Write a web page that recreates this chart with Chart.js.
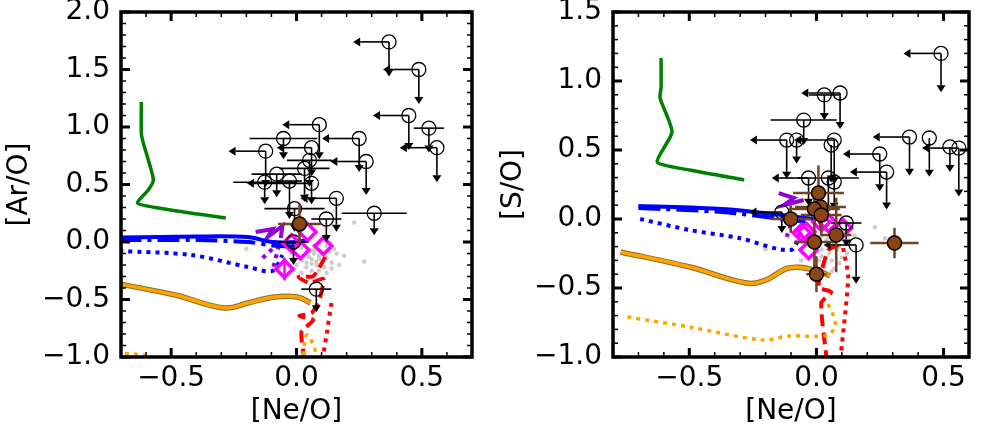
<!DOCTYPE html>
<html>
<head>
<meta charset="utf-8">
<script src="https://cdn.jsdelivr.net/npm/chart.js@4.4.0/dist/chart.umd.min.js"></script>
<style>
body { margin: 0; background: #fff; }
#wrap { position: relative; width: 981px; height: 431px; }
canvas { position: absolute; top: 0; }
</style>
</head>
<body>
<div id="wrap">
  <canvas id="arChart" width="490" height="431" style="left:0px"></canvas>
  <canvas id="sChart" width="491" height="431" style="left:490px"></canvas>
</div>
<script>
// ---- tick labels ----
const arXTicks = [-0.5, 0.0, 0.5];
const arYTicks = [-1.0, -0.5, 0.0, 0.5, 1.0, 1.5, 2.0];
const sXTicks = [-0.5, 0.0, 0.5];
const sYTicks = [-1.0, -0.5, 0.0, 0.5, 1.0, 1.5];

// ---- [Ar/O] panel: model tracks ----
const arGreenX = [-0.619, -0.619, -0.611, -0.591, -0.571, -0.591, -0.635, -0.552, -0.393, -0.282];
const arGreenY = [1.217, 0.948, 0.861, 0.713, 0.539, 0.452, 0.339, 0.296, 0.243, 0.209];
const arBlueX = [-0.706, -0.393, -0.194, -0.095, 0.004, 0.044];
const arBlueY = [0.038, 0.048, 0.043, 0.0, 0.0, 0.017];
const arBlueDdX = [-0.706, -0.393, -0.194, -0.095, 0.004];
const arBlueDdY = [0.017, 0.017, 0.0, -0.03, -0.04];
const arBlueDotX = [-0.706, -0.42, -0.194, -0.095, -0.056];
const arBlueDotY = [-0.078, -0.113, -0.217, -0.252, -0.113];
const arPurpleX = [-0.163, -0.095, -0.115, -0.056, -0.063];
const arPurpleY = [0.087, 0.113, 0.043, 0.139, 0.035];
const arPurpleDotX = [-0.135, -0.067, -0.095];
const arPurpleDotY = [-0.139, 0.0, -0.243];
const arOrangeX = [-0.706, -0.484, -0.286, -0.194, -0.087, 0.004, 0.056];
const arOrangeY = [-0.365, -0.461, -0.574, -0.53, -0.478, -0.478, -0.53];
const arOrangeDotX = [-0.72, -0.6, -0.45, 0.0, 0.04, 0.075, 0.06];
const arOrangeDotY = [-0.965, -0.99, -1.15, -1.15, -0.81, -0.95, -1.1];
const arRedX = [0.115, 0.067, 0.008, 0.052, 0.107, 0.091, 0.06, 0.012, 0.067, 0.02, 0.032];
const arRedY = [-0.13, -0.296, -0.304, -0.357, -0.322, -0.504, -0.617, -0.643, -0.678, -0.783, -1.03];
const arRedDotX = [0.139, 0.123, 0.103];
const arRedDotY = [-0.53, -0.765, -1.03];

// ---- [Ar/O] panel: observations ----
const arGrayX = [0.02, 0.05, 0.07, 0.03, 0.06, 0.09, 0.04, 0.08, 0.10, 0.12, 0.00, 0.06, 0.02, 0.11, 0.14, 0.07, 0.16, 0.19, 0.23, 0.27,
                 0.12, 0.14, 0.05, -0.02, -0.05, 0.09, 0.13, 0.10, 0.04, 0.15, -0.20, 0.01, 0.08, 0.03, 0.11, 0.06, 0.17, 0.09, -0.01, 0.13,
                 0.05, 0.08, 0.02, 0.10, 0.07, 0.04, 0.12, 0.09];
const arGrayY = [-0.05, -0.08, -0.10, -0.12, -0.15, -0.12, -0.18, -0.20, -0.08, -0.14, -0.20, -0.25, -0.27, -0.22, -0.18, -0.03, -0.10, -0.12, 0.17, -0.17,
                 -0.27, -0.23, 0.02, -0.10, -0.16, -0.02, -0.05, -0.16, -0.22, -0.06, -0.06, -0.14, -0.06, -0.03, -0.11, -0.19, -0.20, -0.25, -0.24, -0.09,
                 -0.13, -0.17, -0.16, -0.19, -0.07, -0.09, -0.03, -0.14];
const arDiaX = [0.044, -0.02, 0.016, 0.107, -0.048];
const arDiaY = [0.087, -0.01, -0.07, -0.035, -0.235];
const arDiaYErr = [0, 0, 0, 0, 0.1];
const arLimX = [0.369, 0.488, 0.448, 0.528, 0.56, 0.091, -0.052, 0.25, -0.123, 0.06, 0.278, 0.052, 0.032, -0.079, -0.127, -0.028, 0.06, 0.159, -0.008, 0.119, 0.31, -0.012, 0.079];
const arLimY = [1.74, 1.50, 1.10, 0.99, 0.82, 1.02, 0.90, 0.90, 0.79, 0.82, 0.70, 0.71, 0.64, 0.59, 0.52, 0.53, 0.51, 0.38, 0.29, 0.20, 0.25, 0.0, -0.41];
const arLimLeft = [0.115, 0.115, 0.115, 0, 0.12, 0.12, 0, 0.12, 0.12, 0.11, 0.115, 0, 0, 0, 0, 0, 0.23, 0.115, 0, 0, 0, 0, 0];
const arLimXErr = [0, 0, 0, 0.06, 0, 0, 0.135, 0, 0, 0, 0, 0.09, 0.1, 0.1, 0.125, 0.05, 0, 0, 0.12, 0.06, 0.13, 0.06, 0.06];
const arLimDown = [0.24, 0.24, 0.24, 0.15, 0.24, 0.24, 0.12, 0.23, 0.25, 0.19, 0.23, 0.17, 0.23, 0.14, 0.13, 0.27, 0.12, 0.23, 0.14, 0.14, 0.13, 0.14, 0.14];
const arBrownX = [0.012];
const arBrownY = [0.157];
const arBrownXErr = [0.085];
const arBrownYErr = [0.17];

// ---- [S/O] panel: model tracks ----
const sGreenX = [-0.611, -0.611, -0.615, -0.568, -0.626, -0.498, -0.284];
const sGreenY = [1.167, 0.957, 0.877, 0.63, 0.413, 0.355, 0.283];
const sBlueX = [-0.70, -0.37, -0.136, -0.043, 0.0];
const sBlueY = [0.094, 0.072, 0.029, 0.007, 0.0];
const sBlueDdX = [-0.70, -0.37, -0.136, -0.043];
const sBlueDdY = [0.08, 0.05, 0.0, -0.02];
const sBlueDotX = [-0.693, -0.498, -0.304, -0.101, -0.058];
const sBlueDotY = [0.0, -0.08, -0.138, -0.225, -0.08];
const sPurpleX = [-0.148, -0.089, -0.128, -0.05];
const sPurpleY = [0.188, 0.152, 0.101, 0.138];
const sPurpleDotX = [-0.101, -0.117];
const sPurpleDotY = [-0.043, -0.13];
const sOrangeX = [-0.77, -0.498, -0.276, -0.198, -0.109, -0.004, 0.054];
const sOrangeY = [-0.239, -0.348, -0.464, -0.442, -0.355, -0.37, -0.413];
const sOrangeDotX = [-0.743, -0.498, -0.214, -0.109, 0.047, 0.074, 0.039];
const sOrangeDotY = [-0.71, -0.783, -0.877, -0.848, -0.841, -0.754, -0.587];
const sRedX = [0.086, 0.047, 0.008, 0.058, 0.019, 0.039, 0.045];
const sRedY = [-0.188, -0.225, -0.493, -0.529, -0.609, -1.0, -1.15];
const sRedDotX = [0.105, 0.125, 0.097, 0.09];
const sRedDotY = [-0.21, -0.42, -0.97, -1.15];

// ---- [S/O] panel: observations ----
const sGrayX = [0.02, 0.00, 0.04, 0.06, 0.08, 0.10, -0.02, 0.03, 0.05, 0.07, 0.09, 0.11, -0.04, 0.01, 0.06,
                0.04, 0.12, 0.08, -0.01, 0.02, -0.20, 0.23, 0.15, 0.27, 0.10, 0.05, -0.06, 0.13, 0.03, 0.07,
                0.0, 0.05, 0.09, 0.02];
const sGrayY = [-0.27, -0.20, -0.15, -0.30, -0.22, -0.12, -0.10, -0.35, -0.25, -0.18, -0.32, -0.08, -0.18, -0.30, -0.38,
                -0.05, -0.25, -0.10, -0.26, -0.12, -0.22, -0.06, -0.12, -0.14, -0.28, -0.20, -0.30, -0.17, -0.08, -0.36,
                -0.33, -0.13, -0.20, -0.22];
const sDiaX = [0.019, -0.039, -0.031, 0.047, 0.105, -0.058];
const sDiaY = [-0.022, -0.094, -0.225, -0.029, -0.065, -0.1];
const sDiaYErr = [0, 0, 0, 0, 0, 0];
const sLimX = [0.49, 0.093, 0.031, -0.05, -0.117, -0.078, 0.07, 0.058, 0.249, 0.276, 0.366, 0.444, 0.525, 0.56, -0.031, 0.047, 0.07, 0.117, 0.156, -0.136];
const sLimY = [1.20, 0.913, 0.899, 0.717, 0.572, 0.572, 0.572, 0.536, 0.471, 0.34, 0.594, 0.587, 0.522, 0.514, 0.297, 0.297, 0.268, -0.029, -0.188, 0.05];
const sLimLeft = [0.12, 0.125, 0, 0, 0.117, 0, 0.13, 0, 0.117, 0.117, 0.117, 0, 0, 0.117, 0.117, 0, 0, 0, 0.1, 0.1];
const sLimXErr = [0, 0, 0.06, 0.13, 0, 0, 0, 0, 0, 0, 0, 0, 0, 0, 0, 0.12, 0, 0.06, 0, 0];
const sLimDown = [0.23, 0.21, 0.13, 0.13, 0.23, 0.12, 0.27, 0.22, 0.22, 0.22, 0.23, 0.23, 0.13, 0.3, 0.15, 0.2, 0.15, 0.12, 0.23, 0.1];
const sBrownX = [0.008, 0.016, -0.008, 0.019, -0.101, -0.008, 0.078, 0.307, 0.0];
const sBrownY = [0.188, 0.087, 0.072, 0.029, 0.0, -0.167, -0.116, -0.174, -0.40];
const sBrownXErr = [0.1, 0.1, 0.1, 0.08, 0.08, 0.08, 0.06, 0.095, 0.04];
const sBrownYErr = [0.2, 0.15, 0.12, 0.15, 0.1, 0.2, 0.27, 0.11, 0.13];

const FONT = "'DejaVu Sans', sans-serif";

function pts(xs, ys) {
    return xs.map((x, i) => ({x: x, y: ys[i]}));
}

function track(xs, ys, color, width, dash, tension, order) {
    return {
        data: pts(xs, ys), showLine: true, pointRadius: 0, fill: false,
        borderColor: color, borderWidth: width, borderDash: dash || [],
        tension: tension || 0, order: order || 5
    };
}

function fmt(v) {
    return (v < 0 ? '\u2212' : '') + Math.abs(v).toFixed(1);
}

function drawArrowHead(ctx, x, y, dir) {
    // base at (x,y), apex pointing in dir ('left' or 'down')
    ctx.beginPath();
    if (dir == 'left') {
        ctx.moveTo(x, y - 4.5); ctx.lineTo(x, y + 4.5); ctx.lineTo(x - 7, y);
    } else {
        ctx.moveTo(x - 4.5, y); ctx.lineTo(x + 4.5, y); ctx.lineTo(x, y + 7);
    }
    ctx.closePath();
    ctx.fill();
}

// error bars and limit arrows, drawn just under their own markers
const errPlugin = {
    id: 'errs',
    beforeDatasetDraw(chart, args) {
        const ds = chart.data.datasets[args.index];
        if (!ds.errs) return;
        const e = ds.errs, ctx = chart.ctx, xs = chart.scales.x, ys = chart.scales.y, a = chart.chartArea;
        ctx.save();
        ctx.beginPath();
        ctx.rect(a.left, a.top, a.right - a.left, a.bottom - a.top);
        ctx.clip();
        ctx.strokeStyle = e.color;
        ctx.fillStyle = e.color;
        ctx.lineWidth = e.width;
        ds.data.forEach((p, i) => {
            const px = xs.getPixelForValue(p.x), py = ys.getPixelForValue(p.y);
            const seg = (x1, y1, x2, y2) => { ctx.beginPath(); ctx.moveTo(x1, y1); ctx.lineTo(x2, y2); ctx.stroke(); };
            if (e.xErr && e.xErr[i]) seg(xs.getPixelForValue(p.x - e.xErr[i]), py, xs.getPixelForValue(p.x + e.xErr[i]), py);
            if (e.yErr && e.yErr[i]) seg(px, ys.getPixelForValue(p.y - e.yErr[i]), px, ys.getPixelForValue(p.y + e.yErr[i]));
            if (e.left && e.left[i]) {
                const ex = xs.getPixelForValue(p.x - e.left[i]);
                seg(px, py, ex, py);
                drawArrowHead(ctx, ex, py, 'left');
            }
            if (e.down && e.down[i]) {
                const ey = ys.getPixelForValue(p.y - e.down[i]);
                seg(px, py, px, ey);
                drawArrowHead(ctx, px, ey, 'down');
            }
        });
        ctx.restore();
    }
};

// thick frame with inward major/minor ticks on all four sides
const framePlugin = {
    id: 'frame',
    afterDraw(chart) {
        const ctx = chart.ctx, a = chart.chartArea, xs = chart.scales.x, ys = chart.scales.y;
        const xt = chart.options.plugins.frame.xTicks, yt = chart.options.plugins.frame.yTicks;
        const seg = (x1, y1, x2, y2) => { ctx.beginPath(); ctx.moveTo(x1, y1); ctx.lineTo(x2, y2); ctx.stroke(); };
        ctx.save();
        ctx.strokeStyle = '#000';
        ctx.lineWidth = 1.5;
        for (let k = Math.ceil(xs.min * 10 - 1e-6); k <= Math.floor(xs.max * 10 + 1e-6); k++) {
            const p = xs.getPixelForValue(k / 10);
            seg(p, a.bottom, p, a.bottom - 5); seg(p, a.top, p, a.top + 5);
        }
        for (let k = Math.ceil(ys.min * 10 - 1e-6); k <= Math.floor(ys.max * 10 + 1e-6); k++) {
            const p = ys.getPixelForValue(k / 10);
            seg(a.left, p, a.left + 5, p); seg(a.right, p, a.right - 5, p);
        }
        ctx.lineWidth = 3;
        xt.forEach(v => {
            const p = xs.getPixelForValue(v);
            seg(p, a.bottom, p, a.bottom - 9); seg(p, a.top, p, a.top + 9);
        });
        yt.forEach(v => {
            const p = ys.getPixelForValue(v);
            seg(a.left, p, a.left + 9, p); seg(a.right, p, a.right - 9, p);
        });
        ctx.lineWidth = 3.5;
        ctx.strokeRect(a.left, a.top, a.right - a.left, a.bottom - a.top);
        ctx.restore();
    }
};

function make_panel(canvasId, p) {
    const datasets = [
        {data: pts(p.grayX, p.grayY), pointRadius: 2.2, pointBackgroundColor: '#cccccc', pointBorderWidth: 0, order: 7},
        track(p.greenX, p.greenY, '#008000', 3.5, null, 0.2, 5),
        track(p.blueDotX, p.blueDotY, '#0000ff', 4, [4, 5], 0.3, 5),
        track(p.blueDdX, p.blueDdY, '#0000ff', 4, [22, 6, 4, 6], 0.3, 5),
        track(p.blueX, p.blueY, '#0000ff', 4, null, 0.3, 5),
        track(p.orangeX, p.orangeY, '#8a6a30', 5.5, null, 0.4, 5.2),
        track(p.orangeX, p.orangeY, '#ffa500', 3.5, null, 0.4, 5.1),
        track(p.orangeDotX, p.orangeDotY, '#ffa500', 3.5, [4, 5], 0.3, 5),
        track(p.redX, p.redY, '#ff0000', 4, [12, 6], 0.2, 5),
        track(p.redDotX, p.redDotY, '#ff0000', 4, [4, 5], 0.2, 5),
        track(p.purpleX, p.purpleY, '#9400d3', 4, null, 0, 5),
        track(p.purpleDotX, p.purpleDotY, '#9400d3', 4, [4, 5], 0, 5),
        {data: pts(p.diaX, p.diaY), pointStyle: 'rectRot', pointRadius: 8.5, pointBackgroundColor: 'rgba(0,0,0,0)',
         pointBorderColor: '#ff00ff', pointBorderWidth: 3.5, order: 3,
         errs: {color: '#ff00ff', width: 2.5, yErr: p.diaYErr}},
        {data: pts(p.limX, p.limY), pointStyle: 'circle', pointRadius: 7, pointBackgroundColor: 'rgba(0,0,0,0)',
         pointBorderColor: '#000', pointBorderWidth: 1.3, order: 2,
         errs: {color: '#000', width: 1.6, xErr: p.limXErr, left: p.limLeft, down: p.limDown}},
        {data: pts(p.brownX, p.brownY), pointStyle: 'circle', pointRadius: 7, pointBackgroundColor: '#8b4513',
         pointBorderColor: '#000', pointBorderWidth: 1.5, order: 1,
         errs: {color: '#6e4424', width: 2.5, xErr: p.brownXErr, yErr: p.brownYErr}}
    ];

    return new Chart(document.getElementById(canvasId), {
        type: 'scatter',
        data: {datasets: datasets},
        plugins: [errPlugin, framePlugin],
        options: {
            responsive: false, animation: false, devicePixelRatio: 1, events: [],
            layout: {padding: {top: 12, right: p.padRight, left: 0, bottom: 0}},
            plugins: {legend: {display: false}, tooltip: {enabled: false}, frame: {xTicks: p.xTicks, yTicks: p.yTicks}},
            scales: {
                x: {
                    type: 'linear', min: p.xMin, max: p.xMax,
                    grid: {display: false, drawTicks: false}, border: {display: false},
                    afterBuildTicks: s => { s.ticks = p.xTicks.map(v => ({value: v})); },
                    afterFit: s => { s.height = 74; s.paddingLeft = 0; s.paddingRight = 0; },
                    ticks: {color: '#000', padding: 5, maxRotation: 0, font: {family: FONT, size: 28}, callback: fmt},
                    title: {display: true, text: '[Ne/O]', color: '#000', padding: {top: 0, bottom: 2}, font: {family: FONT, size: 28}}
                },
                y: {
                    type: 'linear', min: p.yMin, max: p.yMax,
                    grid: {display: false, drawTicks: false}, border: {display: false},
                    afterBuildTicks: s => { s.ticks = p.yTicks.map(v => ({value: v})); },
                    afterFit: s => { s.width = p.yWidth; s.paddingTop = 0; s.paddingBottom = 0; },
                    ticks: {color: '#000', padding: 11, font: {family: FONT, size: 28}, callback: fmt},
                    title: {display: true, text: p.yTitle, color: '#000', padding: {top: p.yTitlePad, bottom: 0}, font: {family: FONT, size: 28}}
                }
            }
        }
    });
}

make_panel('arChart', {
    xMin: -0.7, xMax: 0.7, yMin: -1.0, yMax: 2.0, xTicks: arXTicks, yTicks: arYTicks,
    yTitle: '[Ar/O]', yWidth: 121, yTitlePad: 3, padRight: 18,
    greenX: arGreenX, greenY: arGreenY, blueX: arBlueX, blueY: arBlueY, blueDdX: arBlueDdX, blueDdY: arBlueDdY,
    blueDotX: arBlueDotX, blueDotY: arBlueDotY, purpleX: arPurpleX, purpleY: arPurpleY,
    purpleDotX: arPurpleDotX, purpleDotY: arPurpleDotY, orangeX: arOrangeX, orangeY: arOrangeY,
    orangeDotX: arOrangeDotX, orangeDotY: arOrangeDotY, redX: arRedX, redY: arRedY, redDotX: arRedDotX, redDotY: arRedDotY,
    grayX: arGrayX, grayY: arGrayY, diaX: arDiaX, diaY: arDiaY, diaYErr: arDiaYErr,
    limX: arLimX, limY: arLimY, limLeft: arLimLeft, limXErr: arLimXErr, limDown: arLimDown,
    brownX: arBrownX, brownY: arBrownY, brownXErr: arBrownXErr, brownYErr: arBrownYErr
});

make_panel('sChart', {
    xMin: -0.8, xMax: 0.6, yMin: -1.0, yMax: 1.5, xTicks: sXTicks, yTicks: sYTicks,
    yTitle: '[S/O]', yWidth: 123, yTitlePad: 7, padRight: 11,
    greenX: sGreenX, greenY: sGreenY, blueX: sBlueX, blueY: sBlueY, blueDdX: sBlueDdX, blueDdY: sBlueDdY,
    blueDotX: sBlueDotX, blueDotY: sBlueDotY, purpleX: sPurpleX, purpleY: sPurpleY,
    purpleDotX: sPurpleDotX, purpleDotY: sPurpleDotY, orangeX: sOrangeX, orangeY: sOrangeY,
    orangeDotX: sOrangeDotX, orangeDotY: sOrangeDotY, redX: sRedX, redY: sRedY, redDotX: sRedDotX, redDotY: sRedDotY,
    grayX: sGrayX, grayY: sGrayY, diaX: sDiaX, diaY: sDiaY, diaYErr: sDiaYErr,
    limX: sLimX, limY: sLimY, limLeft: sLimLeft, limXErr: sLimXErr, limDown: sLimDown,
    brownX: sBrownX, brownY: sBrownY, brownXErr: sBrownXErr, brownYErr: sBrownYErr
});
</script>
</body>
</html>
